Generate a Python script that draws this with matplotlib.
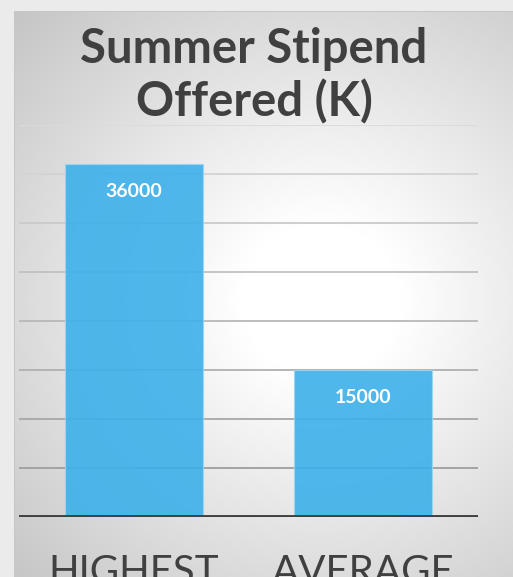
import numpy as np
import matplotlib
matplotlib.use("Agg")
import matplotlib.pyplot as plt

# chart data
categories = ["HIGHEST", "AVERAGE"]
stipend = [36000, 15000]
value_labels = ["36000", "15000"]
grid_ticks = [5000, 10000, 15000, 20000, 25000, 30000, 35000, 40000]

W, H = 513, 577
fig = plt.figure(figsize=(W / 100, H / 100), dpi=100)

# background: light outer strip + panel with radial gradient
bg = fig.add_axes([0, 0, 1, 1])
yy, xx = np.mgrid[0:H, 0:W]
d = np.hypot((xx - 320) * 1.0, (yy - 300) * 1.05)
val = 255 - np.clip(d - 80, 0, None) * 0.165
val = np.clip(val, 0, 255) / 255.0
img = np.dstack([val, val, val])
img[:, :14] = 0.925
img[:11, :] = 0.925
img[11:, 14] = 0.78
img[11, 14:] = 0.78
bg.imshow(img, extent=[0, W, H, 0], aspect="auto", interpolation="bilinear")
bg.set_xlim(0, W)
bg.set_ylim(H, 0)
bg.axis("off")

ax = fig.add_axes([19 / W, (H - 517) / H, 459 / W, 392 / H])
ax.patch.set_alpha(0)
ax.set_xlim(-0.5, 1.5)
ax.set_ylim(0, 40000)

# gridlines get darker towards the bottom
for t in grid_ticks:
    g = 0.86 - (40000 - t) / 35000 * 0.24
    ax.axhline(t, color=(g, g, g), lw=1.3, zorder=1)
ax.axhline(0, color="#404040", lw=2.8, zorder=4)

x = np.arange(len(categories))
bars = ax.bar(x, stipend, width=0.6, color="#3db0ea", alpha=0.9,
              edgecolor="#9ad6f4", linewidth=0.8, zorder=2)

for b, lab in zip(bars, value_labels):
    ax.text(b.get_x() + b.get_width() / 2, b.get_height() - 2800, lab,
            ha="center", va="center", color="white", fontsize=14,
            fontweight="bold", family=["Lato", "DejaVu Sans"], zorder=5)

ax.set_xticks(x)
ax.set_xticklabels(categories, fontsize=29, color="#404040",
                   family=["Lato", "DejaVu Sans"], fontweight="normal")
ax.tick_params(axis="x", length=0, pad=27)
ax.set_yticks([])
for s in ax.spines.values():
    s.set_visible(False)

fig.text(254 / W, 1 - 76 / H, "Summer Stipend\nOffered (K)", ha="center",
         va="center", fontsize=34, fontweight="bold", color="#404040",
         linespacing=1.22, family=["Lato", "DejaVu Sans"])

fig.savefig("out.png", dpi=100)
